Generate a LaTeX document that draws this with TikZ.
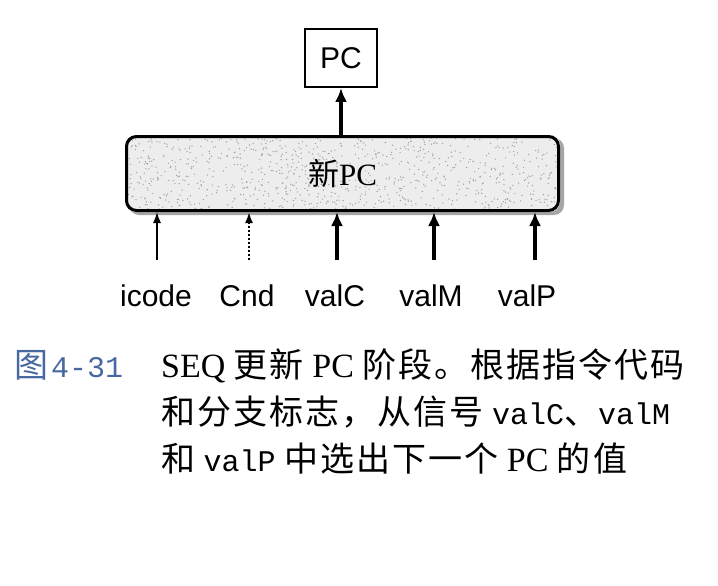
\documentclass[tikz,border=0pt]{standalone}
\usepackage{fontspec}
\setmainfont{Liberation Serif}
\setsansfont{Liberation Sans}
\setmonofont{Liberation Mono}
\newfontfamily\cjk[LetterSpace=6]{Noto Sans CJK SC}
\newfontfamily\cjkbox{Noto Sans CJK SC}
\usetikzlibrary{arrows.meta,calc,shadows,backgrounds}
\definecolor{capblue}{RGB}{72,104,162}
\newcommand{\zh}[1]{{\cjk #1}}
\newcommand{\code}[1]{{\ttfamily\fontsize{30}{40}\selectfont #1}}

\begin{document}
\begin{tikzpicture}[x=1pt,y=-1pt,
		sig/.style={font=\sffamily\fontsize{30}{36}\selectfont,anchor=base,inner sep=0pt},
		captext/.style={font=\fontsize{34}{40}\selectfont,anchor=base west,inner sep=0pt},
		bus/.style={line width=4pt,-{Latex[length=14pt,width=12pt]}},
		wire/.style={line width=1.4pt,-{Latex[length=11pt,width=8pt]}},
		ctrl/.style={line width=2.2pt,dash pattern=on 2pt off 2pt,-{Latex[length=11pt,width=8pt]}}]
			\useasboundingbox (0,0) rectangle (718,586);
			\node (pc) [draw,line width=2pt,minimum width=72pt,minimum height=58pt,font=\sffamily\fontsize{30}{36}\selectfont] at (341,58) {PC};
			\node (npc) [draw,line width=3pt,rounded corners=10pt,minimum width=432pt,minimum height=74pt,font=\fontsize{31}{36}\selectfont] at (342.5,173.5) {{\cjkbox 新}PC};
			\begin{scope}[on background layer]
				\fill[black!7,rounded corners=10pt,drop shadow={shadow xshift=4pt,shadow yshift=-3pt,fill=black!70}] (npc.north west) rectangle (npc.south east);
				\clip[rounded corners=10pt] (npc.north west) rectangle (npc.south east);
				\pgfmathsetseed{31}
				\foreach \i in {1,...,900}
					\fill[black!38] ($(npc.north west)+({rnd*432},{rnd*74})$) circle (0.7pt);
			\end{scope}
			\draw [bus] (pc.south |- npc.north) -- (pc.south);
			\foreach \name/\x/\lx/\sty in {icode/157/156/wire,Cnd/249/247/ctrl,valC/337/335/bus,valM/434/431/bus,valP/535/527/bus}{
				\node (lbl-\name) [sig] at (\lx,306) {\name};
				\coordinate (in-\name) at (\x,260);
				\draw [\sty] (in-\name) -- (in-\name |- npc.south);
			}
			\node (fig) [captext,text=capblue] at (14,377) {\zh{图}\hspace{3pt}\code{4-31}};
			\node (c1) [captext] at (161,377) {SEQ \zh{更新} PC \zh{阶段。根据指令代码}};
			\node (c2) [captext] at (161,424) {\zh{和分支标志，从信号} \code{valC}\zh{、}\code{valM}};
			\node (c3) [captext] at (161,471) {\zh{和} \code{valP} \zh{中选出下一个} PC \zh{的值}};
		\end{tikzpicture}
\end{document}
